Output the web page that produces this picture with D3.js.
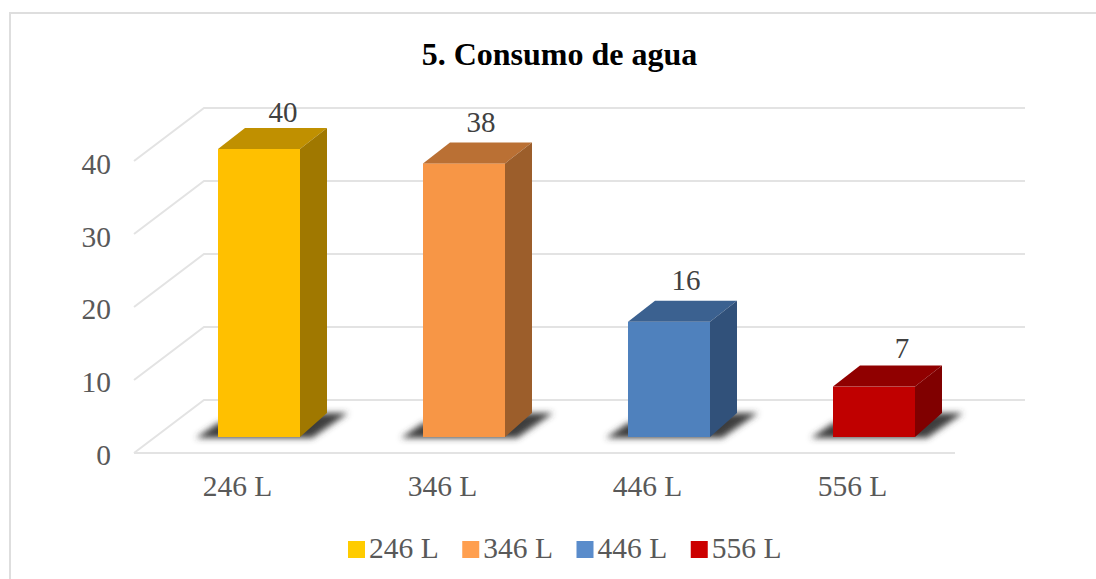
<!DOCTYPE html>
<html>
<head>
<meta charset="utf-8">
<script src="https://d3js.org/d3.v7.min.js"></script>
<style>
	html, body { margin: 0; padding: 0; background: #fff; }
	svg { display: block; }
	text { font-family: "Liberation Serif", serif; }
	.tick-label { font-size: 29.5px; fill: #595959; }
</style>
</head>
<body>
<svg id="chart" width="1096" height="579"></svg>
<script>
const CATEGORIES = ['246 L', '346 L', '446 L', '556 L'];
const VALUES = [40, 38, 16, 7];
const FRONT_COLORS = ['#ffc000', '#f79646', '#4f81bd', '#c00000'];
const TOP_COLORS = ['#c09000', '#ba7034', '#3b6190', '#900000'];
const SIDE_COLORS = ['#a07800', '#9c5e2b', '#31517a', '#800000'];
const LEGEND_COLORS = ['#ffcc00', '#ff9f4f', '#5a8ccb', '#cc0000'];
const Y_TICKS = [0, 10, 20, 30, 40];
const TITLE = '5. Consumo de agua';

// the value labels were placed by hand in the original, offsets from the bar's top centre
const LABEL_DX = [24, 17, 17, 28];
const LABEL_DY = [-27, -31, -32, -29];

const svg = d3.select('#chart');

// defs for the blurred bar shadow
const blur = svg.append('defs').append('filter')
	.attr('id', 'shadow-blur')
	.attr('x', '-20%').attr('y', '-40%')
	.attr('width', '140%').attr('height', '180%');
blur.append('feGaussianBlur').attr('stdDeviation', 3);

// frame
svg.append('path')
	.attr('d', 'M10,579V13H1096')
	.attr('fill', 'none')
	.attr('stroke', '#dedede')
	.attr('stroke-width', 2);

svg.append('text')
	.attr('x', 559.5)
	.attr('y', 65)
	.attr('text-anchor', 'middle')
	.attr('font-size', 32)
	.attr('font-weight', 'bold')
	.attr('fill', '#000')
	.text(TITLE);

// front edge of the floor and walls
const grid_y = d3.scaleLinear().domain([0, 40]).range([453, 161]);
const GRID_LEFT = 134, GRID_RIGHT = 955;
const WALL_DX = 70, WALL_DY = -53;

const grid = svg.append('g')
	.attr('fill', 'none')
	.attr('stroke', '#e3e3e3')
	.attr('stroke-width', 2);

grid.selectAll('path')
	.data(Y_TICKS)
	.enter()
	.append('path')
		.attr('d', d => {
			const y = grid_y(d);
			return `M${GRID_LEFT},${y}L${GRID_LEFT + WALL_DX},${y + WALL_DY}H${GRID_RIGHT + WALL_DX}`;
		});

grid.append('path')
	.attr('d', `M${GRID_LEFT},${grid_y(0)}H${GRID_RIGHT}`);

// y labels
const label_y = d3.scaleLinear().domain([0, 40]).range([454.6, 163.9]);
const y_axis = svg.append('g')
	.attr('transform', 'translate(111,0)')
	.call(d3.axisLeft(label_y).tickValues(Y_TICKS).tickSize(0).tickPadding(0));
y_axis.select('.domain').remove();
y_axis.selectAll('text')
	.attr('class', 'tick-label')
	.attr('style', null);

// bar slots, 82 wide on a 205 step
const x = d3.scaleBand()
	.domain(CATEGORIES)
	.range([218, 915])
	.paddingInner(0.6)
	.paddingOuter(0);

// x labels sit left of the bar centre
const x_axis = svg.append('g')
	.attr('transform', 'translate(-21.5,487)')
	.call(d3.axisBottom(x).tickSize(0).tickPadding(0));
x_axis.select('.domain').remove();
x_axis.selectAll('text')
	.attr('class', 'tick-label')
	.attr('dy', '0.32em')
	.attr('y', 0);

// bars
const bar_y = d3.scaleLinear().domain([0, 40]).range([437, 149]);
const BAR_DX = 27, BAR_DY = -21, FLOOR_DY = -24;
const bar_x = CATEGORIES.map(c => x(c));

const bars = svg.append('g')
	.selectAll('g')
	.data(VALUES)
	.enter()
	.append('g');

bars.append('path')
	.attr('filter', 'url(#shadow-blur)')
	.attr('fill', '#3c3c3c')
	.attr('d', (d, i) => {
		const x0 = bar_x[i], x1 = x0 + x.bandwidth(), y0 = bar_y(0);
		return `M${x0 - 22},${y0 + 1}L${x0},${y0 - 14}L${x1 + BAR_DX},${y0 + FLOOR_DY}H${x1 + 48}L${x1 + 12},${y0 + 1}Z`;
	});

bars.append('rect')
	.attr('x', (d, i) => bar_x[i])
	.attr('y', d => bar_y(d))
	.attr('width', x.bandwidth())
	.attr('height', d => bar_y(0) - bar_y(d))
	.attr('fill', (d, i) => FRONT_COLORS[i]);

bars.append('path')
	.attr('fill', (d, i) => TOP_COLORS[i])
	.attr('d', (d, i) => {
		const x0 = bar_x[i], w = x.bandwidth(), y = bar_y(d);
		return `M${x0},${y}l${BAR_DX},${BAR_DY}h${w}l${-BAR_DX},${-BAR_DY}Z`;
	});

bars.append('path')
	.attr('fill', (d, i) => SIDE_COLORS[i])
	.attr('d', (d, i) => {
		const x1 = bar_x[i] + x.bandwidth(), y = bar_y(d), y0 = bar_y(0);
		return `M${x1},${y}l${BAR_DX},${BAR_DY}V${y0 + FLOOR_DY}L${x1},${y0}Z`;
	});

bars.append('text')
	.attr('x', (d, i) => bar_x[i] + x.bandwidth() / 2 + LABEL_DX[i])
	.attr('y', (d, i) => bar_y(d) + LABEL_DY[i])
	.attr('text-anchor', 'middle')
	.attr('font-size', 29)
	.attr('fill', '#404040')
	.text(d => d);

// legend
const legend_x = d3.scaleBand().domain(CATEGORIES).range([348, 805]);
const legend = svg.append('g')
	.selectAll('g')
	.data(CATEGORIES)
	.enter()
	.append('g')
		.attr('transform', d => `translate(${legend_x(d)},0)`);

legend.append('rect')
	.attr('y', 541)
	.attr('width', 17)
	.attr('height', 17)
	.attr('fill', (d, i) => LEGEND_COLORS[i]);

legend.append('text')
	.attr('class', 'tick-label')
	.attr('x', 21)
	.attr('y', 558)
	.text(d => d);
</script>
</body>
</html>
